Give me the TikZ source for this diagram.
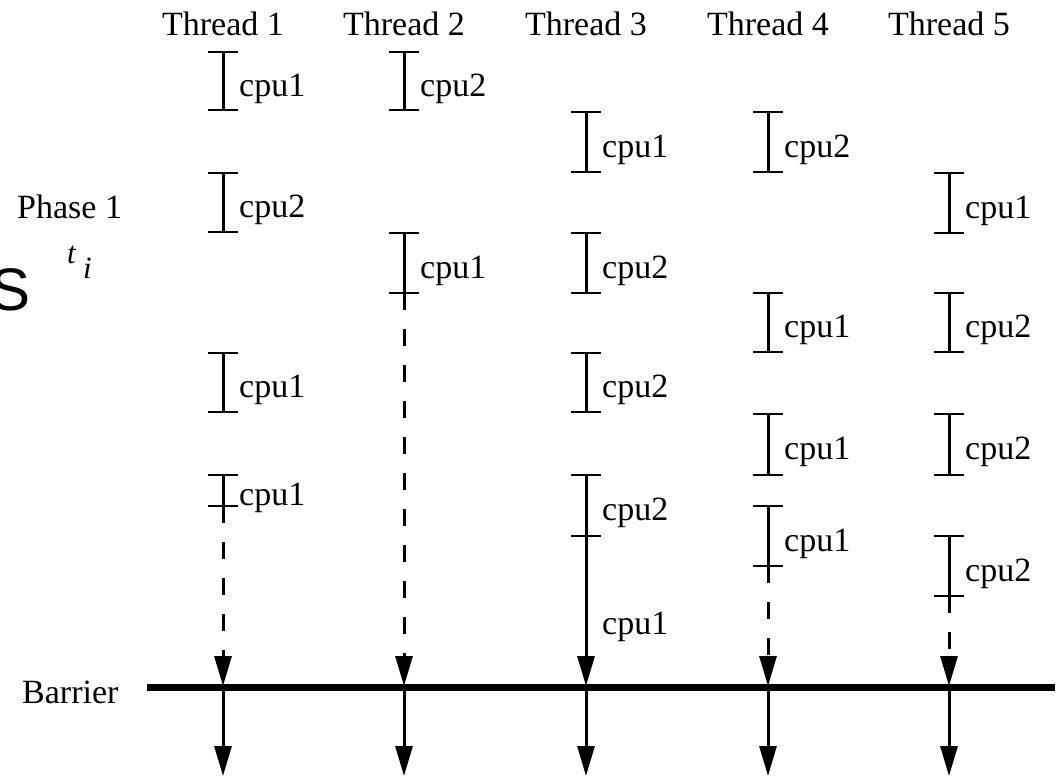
\documentclass[tikz,border=0pt]{standalone}
\usepackage{fontspec}
\setmainfont{Liberation Serif}
\newfontfamily\bigsans{Liberation Sans}
\usetikzlibrary{arrows.meta,calc}

\tikzset{
  lane/.style={line width=3pt},
  tickmark/.style={line width=2pt},
  waiting/.style={line width=3pt, dash pattern=on 17pt off 19pt},
  headtip/.style={-{Triangle[length=30pt,width=17pt]}},
  txt/.style={inner sep=0pt, font=\fontsize{34}{40}\selectfont},
  cpulbl/.style={txt, anchor=base west},
  mathlbl/.style={inner sep=0pt, anchor=base west, font=\fontsize{31}{36}\selectfont\itshape},
  barrierline/.style={line width=7pt},
}

% one CPU time slice: name, x, top y, bottom y, label
\newcommand\cpuslice[5]{%
  \coordinate (#1t) at (#2,#3);
  \coordinate (#1b) at (#2,#4);
  \draw[lane] (#1t) -- (#1b);
  \draw[tickmark] ([xshift=-15pt]#1t) -- ([xshift=15pt]#1t);
  \draw[tickmark] ([xshift=-15pt]#1b) -- ([xshift=15pt]#1b);
  \node[cpulbl] (#1l) at ([xshift=16pt,yshift=-15pt]$(#1t)!0.5!(#1b)$) {#5};
}

\begin{document}
\begin{tikzpicture}[x=1pt,y=-1pt]
\useasboundingbox (0,0) rectangle (1063,777);

% thread headers
\foreach \n/\x in {1/223,2/404,3/586,4/768,5/949}{
  \node[txt, anchor=base] (head\n) at (\x,35) {Thread \n};
}

% left-hand labels
\node[txt, anchor=base west] (phase) at (17,218) {Phase 1};
\node[mathlbl] (tvar) at (67,263) {t};
\node[mathlbl] (ivar) at (83,278) {i};
\node[inner sep=0pt, anchor=base east, font=\bigsans\fontsize{60}{66}\selectfont] (bigS) at (31,310) {S};
\node[txt, anchor=base west] (barrierlbl) at (22,703) {Barrier};

% barrier
\coordinate (barL) at (147,687);
\coordinate (barR) at (1055,687);
\draw[barrierline] (barL) -- (barR);

% Thread 1
\cpuslice{a1}{223}{52}{110}{cpu1}
\cpuslice{a2}{223}{173}{232}{cpu2}
\cpuslice{a3}{223}{353}{412}{cpu1}
\cpuslice{a4}{223}{475}{506}{cpu1}

% Thread 2
\cpuslice{b1}{404}{52}{110}{cpu2}
\cpuslice{b2}{404}{233}{293}{cpu1}

% Thread 3
\cpuslice{c1}{586}{112}{172}{cpu1}
\cpuslice{c2}{586}{233}{293}{cpu2}
\cpuslice{c3}{586}{353}{412}{cpu2}
\cpuslice{c4}{586}{475}{536}{cpu2}
\node[cpulbl] (c5l) at (602,634) {cpu1};

% Thread 4
\cpuslice{d1}{768}{112}{172}{cpu2}
\cpuslice{d2}{768}{293}{352}{cpu1}
\cpuslice{d3}{768}{414}{475}{cpu1}
\cpuslice{d4}{768}{506}{566}{cpu1}

% Thread 5
\cpuslice{e1}{949}{173}{233}{cpu1}
\cpuslice{e2}{949}{293}{352}{cpu2}
\cpuslice{e3}{949}{414}{475}{cpu2}
\cpuslice{e4}{949}{536}{596}{cpu2}

% arrival at the barrier and continuation below it
\foreach \k/\x in {a/223,b/404,c/586,d/768,e/949}{
  \coordinate (\k bar) at (\x,686);
  \coordinate (\k on) at (\x,687);
  \coordinate (\k end) at (\x,776);
  \draw[lane, headtip] (\k on) -- (\k end);
}
\draw[waiting, headtip] (a4b) -- (abar);
\draw[waiting, headtip] (b2b) -- (bbar);
\draw[lane, headtip] (c4b) -- (cbar);
\draw[waiting, headtip] (d4b) -- (dbar);
\draw[waiting, headtip] (e4b) -- (ebar);

\end{tikzpicture}
\end{document}
